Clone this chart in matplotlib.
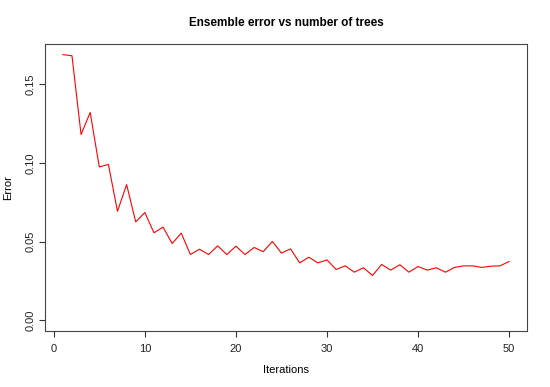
import matplotlib
matplotlib.use("Agg")
import matplotlib.pyplot as plt

plt.rcParams['font.family'] = ['Liberation Sans', 'DejaVu Sans']

iterations = list(range(1, 51))
error = [0.1687, 0.1680, 0.1180, 0.1320, 0.0974, 0.0990, 0.0693, 0.0862, 0.0625, 0.0685,
         0.0556, 0.0592, 0.0488, 0.0554, 0.0418, 0.0452, 0.0418, 0.0473, 0.0418, 0.0471,
         0.0418, 0.0463, 0.0436, 0.0501, 0.0427, 0.0454, 0.0365, 0.0401, 0.0365, 0.0384,
         0.0323, 0.0346, 0.0306, 0.0334, 0.0285, 0.0355, 0.0319, 0.0353, 0.0306, 0.0342,
         0.0319, 0.0334, 0.0306, 0.0336, 0.0346, 0.0346, 0.0336, 0.0344, 0.0346, 0.0374]

x_ticks = [0, 10, 20, 30, 40, 50]
y_ticks = [0.00, 0.05, 0.10, 0.15]
y_labels = ["0.00", "0.05", "0.10", "0.15"]

fig = plt.figure(figsize=(5.5, 3.87), dpi=100)
# axes box in pixels: left 45, right 527, top 44, bottom 331
ax = fig.add_axes([45 / 550, (387 - 331) / 387, 482 / 550, 287 / 387])

ax.plot(iterations, error, color="red", lw=0.8)

# R style 4% padding
xpad = (max(iterations) - min(iterations)) * 0.04
ax.set_xlim(min(iterations) - xpad, max(iterations) + xpad)
ypad = max(error) * 0.04
ax.set_ylim(-ypad, max(error) + ypad)

ax.set_xticks(x_ticks)
ax.set_yticks(y_ticks)
ax.set_yticklabels(y_labels, rotation=90, va="center")
ax.tick_params(direction="out", length=4, width=0.8, color="#333333",
               labelsize=8, labelcolor="#222222", pad=5)
ax.tick_params(axis="y", pad=3)

for s in ax.spines.values():
    s.set_color("#444444")
    s.set_linewidth(0.8)

ax.text(0.5, (331 - 23) / 287, "Ensemble error vs number of trees", transform=ax.transAxes,
        ha="center", va="center", fontsize=8.5, fontweight="bold")
ax.set_xlabel("Iterations", fontsize=8)
ax.set_ylabel("Error", fontsize=8)
ax.xaxis.set_label_coords(0.5, (331 - 370) / 287)
ax.yaxis.set_label_coords((8 - 45) / 482, 0.5)
ax.xaxis.label.set_va("center")
ax.yaxis.label.set_va("center")

fig.savefig("out.png", dpi=100, facecolor="white")
